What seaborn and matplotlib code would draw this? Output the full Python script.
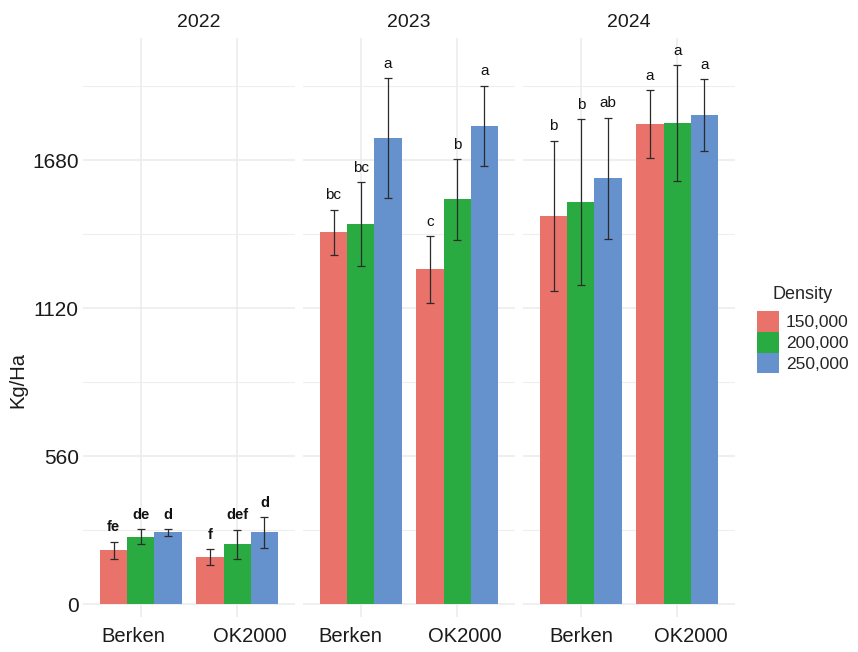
import matplotlib
matplotlib.use("Agg")
import matplotlib.pyplot as plt
import matplotlib.transforms as mtransforms
import seaborn as sns
import pandas as pd

# --- data ---
years = ["2022", "2023", "2024"]
cultivars = ["Berken", "OK2000"]
densities = ["150,000", "200,000", "250,000"]

# per year: Berken x3 densities, then OK2000 x3 densities
mean_2022 = [204, 255, 271, 177, 226, 271]
mean_2023 = [1406, 1439, 1764, 1266, 1531, 1809]
mean_2024 = [1468, 1522, 1611, 1816, 1821, 1850]

se_2022 = [32, 29, 13, 30, 55, 58]
se_2023 = [87, 158, 226, 126, 153, 153]
se_2024 = [285, 313, 229, 128, 219, 136]

letters_2022 = ["fe", "de", "d", "f", "def", "d"]
letters_2023 = ["bc", "bc", "a", "c", "b", "a"]
letters_2024 = ["b", "b", "ab", "a", "a", "a"]

y_ticks = [0, 560, 1120, 1680]
y_minor = [280, 840, 1400, 1960]

colors = ["#E9736A", "#2AAB42", "#6591CD"]

means = {"2022": mean_2022, "2023": mean_2023, "2024": mean_2024}
ses = {"2022": se_2022, "2023": se_2023, "2024": se_2024}
letters = {"2022": letters_2022, "2023": letters_2023, "2024": letters_2024}

rows = []
for yr in years:
    i = 0
    for cv in cultivars:
        for d in densities:
            rows.append({"Year": yr, "Cultivar": cv, "Density": d,
                         "Yield": means[yr][i], "SE": ses[yr][i],
                         "Letter": letters[yr][i]})
            i += 1
df = pd.DataFrame(rows)

sns.set_theme(style="white")
plt.rcParams["font.family"] = ["Liberation Sans", "DejaVu Sans"]

W, H = 858, 652
fig = plt.figure(figsize=(W / 100, H / 100), dpi=100)

# panel extents in pixels (left, right), shared top/bottom
panels = [(83, 295), (303, 515), (523, 735)]
top_px, bot_px = 38, 617
# the reference has its strip/tick labels nudged a little off-centre (px)
title_x = [0.545, 0.5, 0.5]
xlab_shift = [(-8, 13), (-11, 8), (0, 14)]

axes = []
for k, yr in enumerate(years):
    l, r = panels[k]
    ax = fig.add_axes([l / W, 1 - bot_px / H, (r - l) / W, (bot_px - top_px) / H])
    axes.append(ax)
    sub = df[df["Year"] == yr]
    sns.barplot(data=sub, x="Cultivar", y="Yield", hue="Density",
                order=cultivars, hue_order=densities, palette=colors,
                saturation=1, width=0.85, errorbar=None, ax=ax,
                legend=(k == 0), edgecolor="none", linewidth=0, zorder=2)

    # error bars and letters, aligned with the drawn bars
    bar_conts = list(ax.containers)
    for hi, cont in enumerate(bar_conts):
        for ci, patch in enumerate(cont.patches):
            row = sub[(sub["Cultivar"] == cultivars[ci]) &
                      (sub["Density"] == densities[hi])].iloc[0]
            xc = patch.get_x() + patch.get_width() / 2
            ax.errorbar(xc, row["Yield"], yerr=row["SE"], fmt="none",
                        ecolor="#2b2b2b", elinewidth=0.9, capsize=2.8,
                        capthick=0.9, zorder=3)
            bold = "bold" if yr == "2022" else "normal"
            fs = 10.5 if yr == "2022" else 11
            ax.annotate(row["Letter"], (xc, row["Yield"] + row["SE"]),
                        xytext=(0, 7.5), textcoords="offset points",
                        ha="center", va="baseline", fontsize=fs,
                        fontweight=bold, color="#111111")

    ax.set_xlim(-0.6, 1.6)
    ax.set_ylim(-49, 2142)
    ax.set_yticks(y_ticks)
    ax.set_yticks(y_minor, minor=True)
    ax.grid(True, which="major", axis="both", color="#EBEBEB", linewidth=1.1, zorder=0)
    ax.grid(True, which="minor", axis="y", color="#EEEEEE", linewidth=0.8, zorder=0)
    ax.set_axisbelow(True)
    for s in ax.spines.values():
        s.set_visible(False)
    ax.tick_params(axis="both", which="both", length=0)
    ax.tick_params(axis="x", labelsize=14.5, pad=7, colors="#1a1a1a")
    ax.tick_params(axis="y", labelsize=15, pad=3, colors="#1a1a1a")
    for lab, dx in zip(ax.get_xticklabels(), xlab_shift[k]):
        lab.set_transform(lab.get_transform() +
                          mtransforms.ScaledTranslation(dx / 100, 0, fig.dpi_scale_trans))
    ax.set_xlabel("")
    ax.set_title(yr, fontsize=14, pad=8, color="#1a1a1a", x=title_x[k])
    if k == 0:
        ax.set_ylabel("Kg/Ha", fontsize=14.5, color="#1a1a1a")
        ax.yaxis.set_label_coords(-0.262, 0.41)
    else:
        ax.set_ylabel("")
        ax.set_yticklabels([])

handles, labels = axes[0].get_legend_handles_labels()
axes[0].get_legend().remove()
leg = fig.legend(handles, labels, title="Density", loc="upper left",
                 bbox_to_anchor=(757 / W, 1 - 286 / H), frameon=False,
                 fontsize=12.5, title_fontsize=13, handlelength=1.27,
                 handleheight=1.45, labelspacing=0.0, handletextpad=0.4,
                 borderpad=0, borderaxespad=0)
leg._legend_box.sep = 6  # gap between title and keys

fig.savefig("out.png", dpi=100)
